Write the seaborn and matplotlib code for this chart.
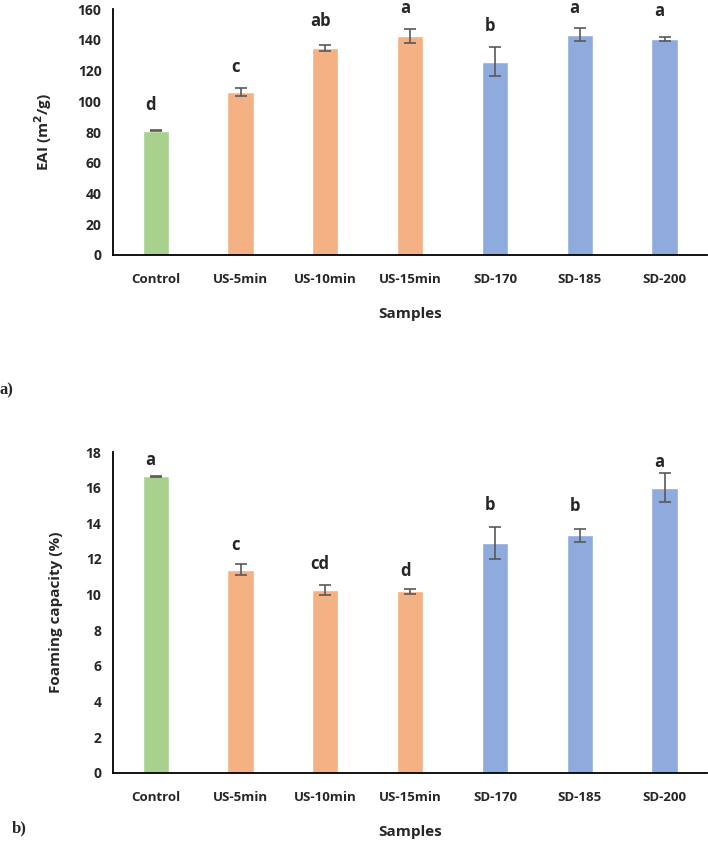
import numpy as np
import pandas as pd
import matplotlib
matplotlib.use("Agg")
import matplotlib.pyplot as plt
import seaborn as sns

samples = ["Control", "US-5min", "US-10min", "US-15min", "SD-170", "SD-185", "SD-200"]
bar_colors = ["#A9D18E", "#F4B183", "#F4B183", "#F4B183", "#8FAADC", "#8FAADC", "#8FAADC"]

eai = [80.8, 106.1, 134.9, 142.8, 125.8, 143.5, 140.7]
eai_err = [0.4, 2.4, 2.0, 4.6, 9.3, 4.2, 1.3]
eai_letters = ["d", "c", "ab", "a", "b", "a", "a"]
eai_letter_y = [97.5, 122.5, 152.5, 160.5, 149.0, 161.0, 159.0]

foam = [16.65, 11.4, 10.28, 10.18, 12.9, 13.32, 16.0]
foam_err = [0.03, 0.3, 0.28, 0.15, 0.88, 0.39, 0.82]
foam_letters = ["a", "c", "cd", "d", "b", "b", "a"]
foam_letter_y = [17.55, 12.8, 11.7, 11.3, 15.05, 14.95, 17.45]

sns.set_style("white")
plt.rcParams["font.family"] = ["Open Sans", "DejaVu Sans"]
plt.rcParams["font.weight"] = "bold"

fig = plt.figure(figsize=(7.08, 8.41), dpi=100)
ax_top = fig.add_axes([0.16, 0.697, 0.8386, 0.292])
ax_bot = fig.add_axes([0.16, 0.081, 0.8386, 0.3815])


def draw_panel(ax, vals, errs, letters, letter_y, ymax, ystep, ylabel):
    df = pd.DataFrame({"sample": samples, "value": vals})
    sns.barplot(data=df, x="sample", y="value", hue="sample", palette=bar_colors,
                order=samples, width=0.31, legend=False, ax=ax, saturation=1)
    ax.errorbar(np.arange(len(samples)), vals, yerr=errs, fmt="none",
                ecolor="#595959", elinewidth=1.2, capsize=4, capthick=1.2, zorder=5)
    for i, (lab, ly) in enumerate(zip(letters, letter_y)):
        ax.text(i - 0.06, ly, lab, ha="center", va="center", fontsize=12,
                fontweight="bold", clip_on=False)
    ax.set_xlim(-0.5, len(samples) - 0.5)
    ax.set_ylim(0, ymax)
    ax.set_yticks(np.arange(0, ymax + ystep / 2, ystep))
    ax.set_xticks(np.arange(len(samples)))
    ax.set_xticklabels(samples, fontsize=9.5, fontweight="bold")
    ax.set_xticks(np.arange(-0.5, len(samples)), minor=True)
    ax.tick_params(axis="x", which="major", length=0, pad=13)
    ax.tick_params(axis="x", which="minor", direction="inout", length=9, width=1.3)
    ax.tick_params(axis="y", direction="inout", length=9, width=1.3, labelsize=10, pad=4)
    for t in ax.get_yticklabels():
        t.set_fontweight("bold")
    for side in ["top", "right"]:
        ax.spines[side].set_visible(False)
    for side in ["left", "bottom"]:
        ax.spines[side].set_color("black")
        ax.spines[side].set_linewidth(1.3)
    ax.set_ylabel(ylabel, fontsize=11, fontweight="bold")
    ax.set_xlabel("Samples", fontsize=11, fontweight="bold", labelpad=15)


draw_panel(ax_top, eai, eai_err, eai_letters, eai_letter_y, 160, 20, "EAI (m$^\\mathbf{2}$/g)")
draw_panel(ax_bot, foam, foam_err, foam_letters, foam_letter_y, 18, 2, "Foaming capacity (%)")
ax_top.yaxis.set_label_coords(-0.1, 0.5)
ax_bot.yaxis.set_label_coords(-0.085, 0.5)

fig.text(0.0, 1 - 390 / 841, "a)", fontsize=12, fontweight="bold",
         family=["Liberation Serif", "DejaVu Serif"], va="center", ha="left")
fig.text(0.016, 1 - 828 / 841, "b)", fontsize=12, fontweight="bold",
         family=["Liberation Serif", "DejaVu Serif"], va="center", ha="left")

fig.savefig("out.png", dpi=100)
